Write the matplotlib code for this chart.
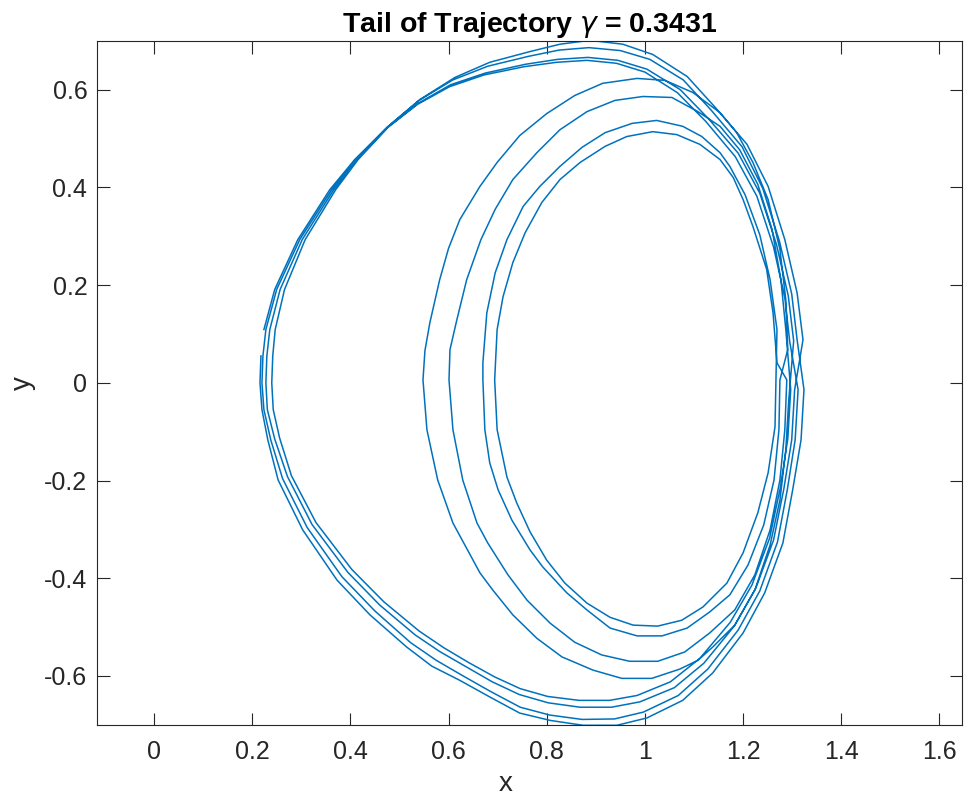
import numpy as np
import matplotlib
matplotlib.use("Agg")
from matplotlib import pyplot as plt

plt.rcParams['font.family'] = ['Liberation Sans', 'DejaVu Sans']
plt.rcParams['mathtext.fontset'] = 'dejavusans'

# loops of the trajectory tail, each starting at the right side
# outer loops
o1_x = [1.324, 1.318, 1.301, 1.281, 1.244, 1.200, 1.138, 1.077, 1.004, 0.943, 0.874, 0.807, 0.745, 0.684, 0.623, 0.566, 0.515, 0.440, 0.373, 0.303, 0.253, 0.232, 0.220, 0.216, 0.218, 0.224, 0.246, 0.293, 0.358, 0.409, 0.475, 0.542, 0.613, 0.684, 0.766, 0.827, 0.888, 0.955, 1.016, 1.086, 1.143, 1.208, 1.251, 1.285, 1.310, 1.322]
o1_y = [-0.014, -0.117, -0.219, -0.328, -0.430, -0.512, -0.594, -0.650, -0.686, -0.701, -0.701, -0.691, -0.676, -0.643, -0.609, -0.580, -0.541, -0.475, -0.404, -0.301, -0.199, -0.117, -0.055, 0.000, 0.055, 0.109, 0.191, 0.293, 0.395, 0.457, 0.523, 0.580, 0.625, 0.656, 0.678, 0.693, 0.701, 0.693, 0.672, 0.627, 0.564, 0.488, 0.402, 0.293, 0.184, 0.088]

o2_x = [1.312, 1.306, 1.290, 1.270, 1.234, 1.190, 1.128, 1.068, 0.997, 0.938, 0.872, 0.806, 0.746, 0.686, 0.628, 0.575, 0.523, 0.450, 0.383, 0.312, 0.262, 0.238, 0.224, 0.220, 0.222, 0.228, 0.250, 0.297, 0.362, 0.411, 0.475, 0.540, 0.609, 0.680, 0.762, 0.825, 0.886, 0.950, 1.010, 1.078, 1.135, 1.198, 1.240, 1.274, 1.299, 1.310]
o2_y = [-0.014, -0.117, -0.219, -0.326, -0.426, -0.506, -0.586, -0.640, -0.674, -0.688, -0.689, -0.680, -0.664, -0.632, -0.599, -0.568, -0.532, -0.467, -0.397, -0.296, -0.196, -0.117, -0.055, 0.000, 0.055, 0.109, 0.191, 0.293, 0.395, 0.457, 0.523, 0.578, 0.620, 0.648, 0.668, 0.681, 0.686, 0.680, 0.662, 0.620, 0.558, 0.483, 0.398, 0.290, 0.182, 0.088]

o3_x = [1.305, 1.299, 1.283, 1.262, 1.226, 1.182, 1.120, 1.060, 0.990, 0.932, 0.868, 0.803, 0.744, 0.689, 0.634, 0.582, 0.532, 0.460, 0.395, 0.322, 0.272, 0.246, 0.231, 0.228, 0.230, 0.236, 0.257, 0.302, 0.366, 0.413, 0.476, 0.538, 0.604, 0.675, 0.757, 0.822, 0.884, 0.945, 1.004, 1.072, 1.130, 1.190, 1.234, 1.268, 1.292, 1.303]
o3_y = [-0.014, -0.117, -0.217, -0.322, -0.420, -0.498, -0.574, -0.624, -0.653, -0.664, -0.664, -0.655, -0.638, -0.612, -0.580, -0.550, -0.516, -0.455, -0.388, -0.290, -0.192, -0.115, -0.055, 0.000, 0.055, 0.109, 0.191, 0.293, 0.395, 0.457, 0.523, 0.572, 0.610, 0.634, 0.652, 0.662, 0.666, 0.660, 0.642, 0.600, 0.540, 0.470, 0.388, 0.283, 0.178, 0.086]

o4_x = [1.297, 1.291, 1.276, 1.254, 1.218, 1.174, 1.112, 1.052, 0.984, 0.928, 0.866, 0.802, 0.746, 0.694, 0.640, 0.590, 0.540, 0.468, 0.403, 0.330, 0.280, 0.256, 0.243, 0.240, 0.242, 0.247, 0.266, 0.308, 0.370, 0.416, 0.477, 0.537, 0.602, 0.672, 0.754, 0.820, 0.882, 0.942, 1.000, 1.066, 1.124, 1.184, 1.228, 1.262, 1.285, 1.295]
o4_y = [-0.014, -0.115, -0.214, -0.318, -0.414, -0.490, -0.564, -0.612, -0.640, -0.650, -0.650, -0.642, -0.626, -0.602, -0.572, -0.542, -0.508, -0.448, -0.382, -0.286, -0.190, -0.113, -0.055, 0.000, 0.055, 0.109, 0.191, 0.293, 0.395, 0.457, 0.523, 0.570, 0.606, 0.630, 0.647, 0.656, 0.660, 0.654, 0.636, 0.594, 0.535, 0.463, 0.382, 0.278, 0.174, 0.084]

# inner loops
i1_x = [1.293, 1.287, 1.275, 1.255, 1.224, 1.183, 1.138, 1.108, 1.071, 1.014, 0.953, 0.894, 0.831, 0.780, 0.731, 0.690, 0.664, 0.609, 0.578, 0.556, 0.548, 0.552, 0.562, 0.582, 0.600, 0.623, 0.664, 0.699, 0.745, 0.800, 0.857, 0.914, 0.984, 1.041, 1.098, 1.153, 1.187, 1.220, 1.251, 1.275, 1.287, 1.291]
i1_y = [-0.035, -0.137, -0.240, -0.332, -0.424, -0.496, -0.541, -0.568, -0.586, -0.605, -0.605, -0.588, -0.561, -0.523, -0.475, -0.424, -0.389, -0.287, -0.199, -0.096, 0.006, 0.066, 0.123, 0.211, 0.275, 0.334, 0.402, 0.451, 0.506, 0.551, 0.588, 0.613, 0.623, 0.619, 0.594, 0.553, 0.512, 0.451, 0.375, 0.273, 0.170, 0.068]

i2_x = [1.289, 1.285, 1.275, 1.255, 1.224, 1.183, 1.132, 1.081, 1.026, 0.969, 0.912, 0.857, 0.807, 0.760, 0.721, 0.680, 0.658, 0.629, 0.609, 0.601, 0.603, 0.617, 0.637, 0.666, 0.695, 0.731, 0.780, 0.827, 0.882, 0.939, 0.996, 1.055, 1.108, 1.153, 1.193, 1.230, 1.259, 1.277, 1.287]
i2_y = [0.006, -0.096, -0.199, -0.301, -0.393, -0.465, -0.512, -0.551, -0.570, -0.570, -0.557, -0.531, -0.492, -0.445, -0.393, -0.328, -0.287, -0.199, -0.096, 0.006, 0.068, 0.129, 0.211, 0.293, 0.355, 0.416, 0.471, 0.518, 0.555, 0.578, 0.586, 0.584, 0.555, 0.525, 0.477, 0.406, 0.314, 0.211, 0.109]

i3_x = [1.275, 1.273, 1.263, 1.242, 1.210, 1.173, 1.132, 1.086, 1.035, 0.984, 0.929, 0.882, 0.841, 0.792, 0.766, 0.729, 0.701, 0.684, 0.674, 0.670, 0.670, 0.678, 0.695, 0.719, 0.752, 0.786, 0.827, 0.872, 0.919, 0.974, 1.024, 1.077, 1.116, 1.153, 1.173, 1.204, 1.234, 1.255, 1.269]
i3_y = [0.006, -0.096, -0.199, -0.291, -0.373, -0.434, -0.469, -0.502, -0.518, -0.518, -0.502, -0.465, -0.430, -0.377, -0.342, -0.281, -0.219, -0.164, -0.096, 0.006, 0.041, 0.143, 0.225, 0.293, 0.361, 0.402, 0.443, 0.482, 0.512, 0.531, 0.537, 0.525, 0.504, 0.471, 0.443, 0.385, 0.303, 0.211, 0.109]

i4_x = [1.265, 1.251, 1.230, 1.200, 1.167, 1.118, 1.075, 1.026, 0.976, 0.929, 0.882, 0.837, 0.800, 0.766, 0.739, 0.719, 0.699, 0.694, 0.699, 0.711, 0.731, 0.756, 0.790, 0.827, 0.868, 0.919, 0.963, 1.016, 1.065, 1.112, 1.153, 1.180, 1.200, 1.220, 1.248, 1.261, 1.269]
i4_y = [-0.090, -0.184, -0.266, -0.348, -0.410, -0.459, -0.486, -0.498, -0.496, -0.480, -0.451, -0.410, -0.363, -0.305, -0.246, -0.193, -0.096, 0.006, 0.109, 0.176, 0.246, 0.307, 0.369, 0.416, 0.451, 0.484, 0.504, 0.514, 0.508, 0.488, 0.457, 0.420, 0.375, 0.320, 0.232, 0.143, 0.041]

gamma = 0.3431

# order in which the loops are visited
loops_x = [o1_x, o3_x, i1_x, i3_x, i4_x, i2_x, o4_x, o2_x]
loops_y = [o1_y, o3_y, i1_y, i3_y, i4_y, i2_y, o4_y, o2_y]
x = np.concatenate(loops_x)
y = np.concatenate(loops_y)
# tail starts on the left side of the first loop
start = 25
x = np.concatenate([x[start:], x[:start]])
y = np.concatenate([y[start:], y[:start]])

fig = plt.figure(figsize=(9.64, 8.0), dpi=100)
ax = fig.add_axes([0.1006, 0.094, 0.8974, 0.855])
ax.plot(x, y, color='#0072BD', linewidth=1.1)

ax.set_xlim(-0.116, 1.646)
ax.set_ylim(-0.7, 0.7)
ax.set_xticks(np.arange(0, 1.61, 0.2))
ax.set_yticks(np.arange(-0.6, 0.61, 0.2))
ax.set_xticklabels(['0', '0.2', '0.4', '0.6', '0.8', '1', '1.2', '1.4', '1.6'])
ax.set_yticklabels(['-0.6', '-0.4', '-0.2', '0', '0.2', '0.4', '0.6'])
ax.tick_params(direction='in', length=9, width=0.8, top=True, right=True,
               labelsize=18, colors='#262626')
ax.tick_params(axis='x', pad=11)
ax.tick_params(axis='y', pad=7)
for s in ax.spines.values():
    s.set_color('#262626')
    s.set_linewidth(0.8)

ax.set_xlabel('x', fontsize=20, color='#262626')
ax.xaxis.set_label_coords(0.472, -0.068)
ax.set_ylabel('y', fontsize=20, color='#262626', labelpad=6)
ax.set_title(r'Tail of Trajectory $\gamma$ = %.4f' % gamma, fontsize=20.5,
             fontweight='bold', pad=6)

fig.savefig('out.png', dpi=100)
